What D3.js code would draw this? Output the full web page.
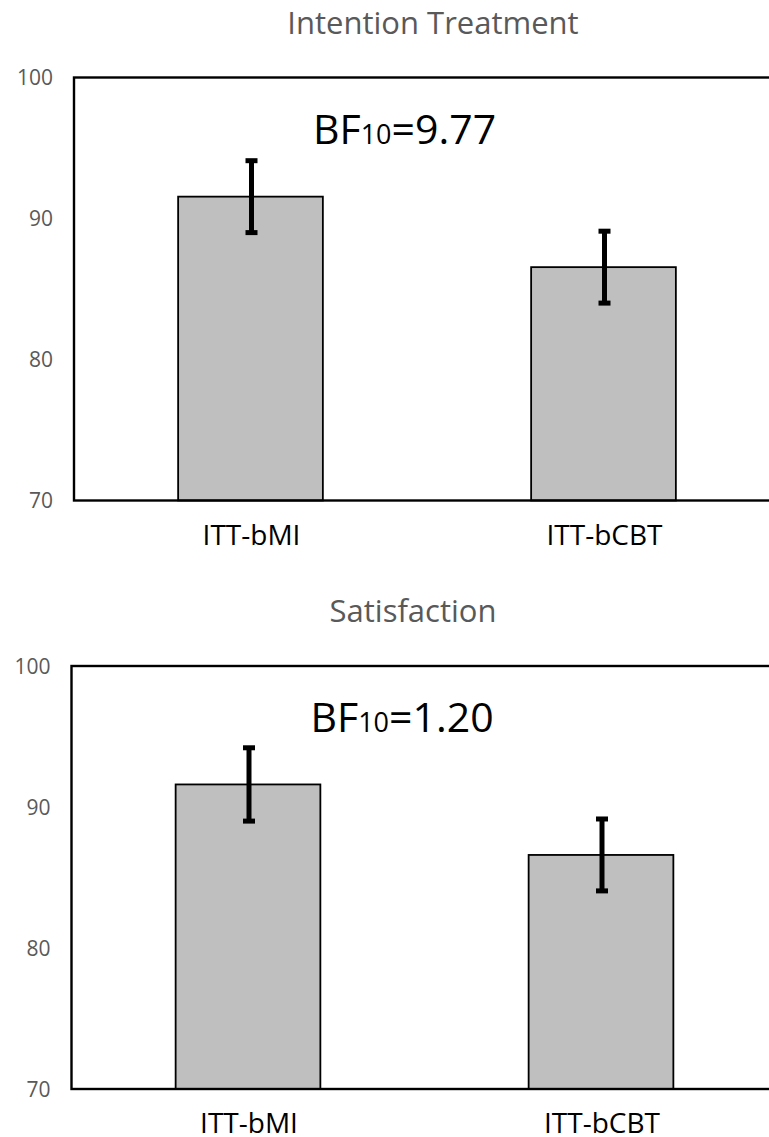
<!DOCTYPE html>
<html>
<head>
<meta charset="utf-8">
<script src="https://cdn.jsdelivr.net/npm/d3@7"></script>
<style>
  body { margin: 0; background: #fff; }
  svg { display: block; }
</style>
</head>
<body>
<div id="chart"></div>
<script>
// data
var groups = ["ITT-bMI", "ITT-bCBT"];
var yTicks = [70, 80, 90, 100];

var titles = ["Intention Treatment", "Satisfaction"];
var bfValues = ["9.77", "1.20"];

var intentionMeans = [91.55, 86.55];
var intentionErr = [2.55, 2.55];

var satisfactionMeans = [91.6, 86.6];
var satisfactionErr = [2.6, 2.55];

var svg = d3.select("#chart").append("svg")
  .attr("width", 769)
  .attr("height", 1137);

var font = "'Open Sans', 'Noto Sans', sans-serif";

function drawPanel(opts) {
  var left = opts.left, top = opts.top,
      width = 706, height = 423;

  var x = d3.scaleBand().domain(groups).range([0, width]).padding(0);
  var y = d3.scaleLinear().domain([70, 100]).range([height, 0]);
  var barW = x.bandwidth() * 0.41;

  var g = svg.append("g").attr("transform", "translate(" + left + "," + top + ")");

  // title
  svg.append("text")
    .attr("x", opts.titleX)
    .attr("y", top - 44)
    .attr("text-anchor", "middle")
    .attr("font-family", font)
    .attr("font-size", 31)
    .attr("fill", "#595959")
    .text(opts.title);

  // y tick labels
  g.selectAll(".ytick")
    .data(yTicks)
    .enter().append("text")
      .attr("class", "ytick")
      .attr("x", -21)
      .attr("y", function(d) { return y(d); })
      .attr("dy", "0.36em")
      .attr("text-anchor", "end")
      .attr("font-family", font)
      .attr("font-size", 21)
      .attr("fill", "#595959")
      .text(function(d) { return d; });

  // bars
  g.selectAll(".bar")
    .data(opts.means)
    .enter().append("rect")
      .attr("class", "bar")
      .attr("x", function(d, i) { return x(groups[i]) + (x.bandwidth() - barW) / 2; })
      .attr("y", function(d) { return y(d); })
      .attr("width", barW)
      .attr("height", function(d) { return height - y(d); })
      .attr("fill", "#bfbfbf")
      .attr("stroke", "#000")
      .attr("stroke-width", 1.8);

  // error bars
  var eb = g.selectAll(".err")
    .data(opts.means)
    .enter().append("g")
      .attr("class", "err")
      .attr("transform", function(d, i) { return "translate(" + (x(groups[i]) + x.bandwidth() / 2 + 1) + ",0)"; });

  eb.append("line")
    .attr("y1", function(d, i) { return y(d + opts.err[i]); })
    .attr("y2", function(d, i) { return y(d - opts.err[i]); })
    .attr("stroke", "#000")
    .attr("stroke-width", 5);

  eb.selectAll(".cap")
    .data(function(d, i) { return [d + opts.err[i], d - opts.err[i]]; })
    .enter().append("line")
      .attr("class", "cap")
      .attr("x1", -6).attr("x2", 6)
      .attr("y1", function(d) { return y(d); })
      .attr("y2", function(d) { return y(d); })
      .attr("stroke", "#000")
      .attr("stroke-width", 5);

  // frame (right edge falls outside the picture)
  g.append("rect")
    .attr("x", 0).attr("y", 0)
    .attr("width", width).attr("height", height)
    .attr("fill", "none")
    .attr("stroke", "#000")
    .attr("stroke-width", 2.4);

  // category labels
  g.selectAll(".xlab")
    .data(groups)
    .enter().append("text")
      .attr("class", "xlab")
      .attr("x", function(d) { return x(d) + x.bandwidth() / 2 + 1; })
      .attr("y", height + 44)
      .attr("text-anchor", "middle")
      .attr("font-family", font)
      .attr("font-size", 28)
      .attr("fill", "#000")
      .text(function(d) { return d; });

  // Bayes factor annotation
  var bf = g.append("text")
    .attr("x", 239)
    .attr("y", 66)
    .attr("font-family", font)
    .attr("font-size", 41)
    .attr("fill", "#000");
  bf.append("tspan").text("BF");
  bf.append("tspan").attr("font-size", 27).text("10");
  bf.append("tspan").text("=" + opts.bf);
}

drawPanel({ left: 74, top: 77.5, title: titles[0], titleX: 433,
  means: intentionMeans, err: intentionErr, bf: bfValues[0] });

drawPanel({ left: 71.5, top: 666, title: titles[1], titleX: 413,
  means: satisfactionMeans, err: satisfactionErr, bf: bfValues[1] });
</script>
</body>
</html>
